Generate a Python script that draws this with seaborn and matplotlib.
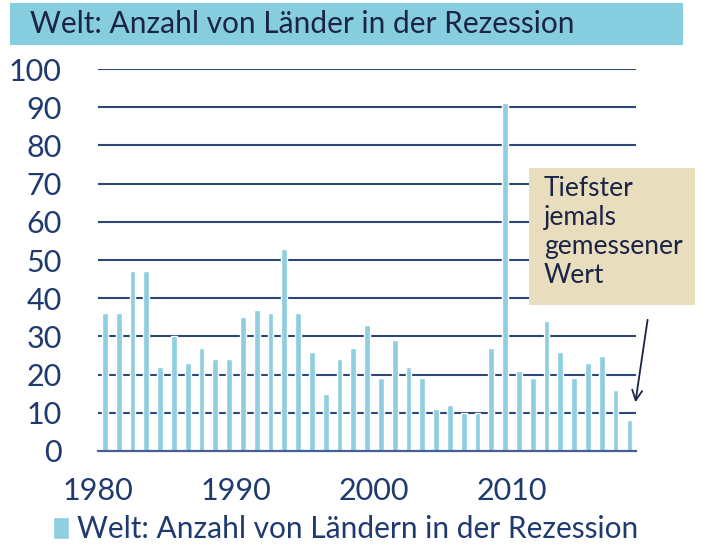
import numpy as np
import pandas as pd
import seaborn as sns
import matplotlib.pyplot as plt
from matplotlib.patches import Rectangle

# Werte
jahre = list(range(1980, 2019))
anzahl = [36, 36, 47, 47, 22, 30, 23, 27, 24, 24,
          35, 37, 36, 53, 36, 26, 15, 24, 27, 33,
          19, 29, 22, 19, 11, 12, 10, 10, 27, 91,
          21, 19, 34, 26, 19, 23, 25, 16, 8]
tick_jahre = [1980, 1990, 2000, 2010]
y_ticks = list(range(0, 101, 10))

titel = "Welt: Anzahl von Länder in der Rezession"
serie = "Welt: Anzahl von Ländern in der Rezession"
notiz = "Tiefster\njemals\ngemessener\nWert"

balken_farbe = "#8ECEE0"
navy = "#1F3A6E"
grid_farbe = "#2B4777"

sns.set_theme(style="white")
plt.rcParams['font.family'] = ['Lato', 'DejaVu Sans']

df = pd.DataFrame({"jahr": jahre, "anzahl": anzahl})

fig = plt.figure(figsize=(7.07, 5.5), dpi=100)
ax = fig.add_axes([0.1386, 0.18, 0.9 - 0.1386, 0.8745 - 0.18])

sns.barplot(data=df, x="jahr", y="anzahl", color=balken_farbe, saturation=1,
            width=0.42, ax=ax, label=serie, zorder=3)

ax.set_ylim(0, 100)
ax.set_xlim(-0.5, len(jahre) - 0.5)
ax.set_yticks(y_ticks)
ax.set_yticklabels([str(v) for v in y_ticks])
ax.set_xticks([jahre.index(j) - 0.5 for j in tick_jahre])
ax.set_xticklabels([str(j) for j in tick_jahre])
ax.set_xlabel("")
ax.set_ylabel("")

for v in y_ticks[1:]:
    ax.axhline(v, color=grid_farbe, lw=1.5, zorder=1)

for s in ["top", "right", "left"]:
    ax.spines[s].set_visible(False)
ax.spines["bottom"].set_color("#44608E")
ax.spines["bottom"].set_linewidth(1.6)
ax.spines["bottom"].set_zorder(4)

ax.tick_params(axis="x", direction="out", length=9, width=1.4, color="#44608E",
               labelsize=22, labelcolor=navy, pad=10)
ax.tick_params(axis="y", length=0, labelsize=22, labelcolor=navy, pad=26)

# Titelband
fig.patches.append(Rectangle((0.0141, 0.918), 0.952, 0.0765, transform=fig.transFigure,
                             facecolor="#87CDE0", edgecolor="none", zorder=0))
fig.text(0.042, 0.957, titel, fontsize=21.5, color="#1B2447", va="center", ha="left")

# Notiz-Box
fig.patches.append(Rectangle((529 / 707, 1 - 305 / 550), 166 / 707, 137 / 550,
                             transform=fig.transFigure, facecolor="#E8DDBC",
                             edgecolor="none", zorder=5))
fig.text(544 / 707, 1 - 176 / 550, notiz, fontsize=19, color="#1B2447",
         va="top", ha="left", linespacing=1.2, zorder=6)
ax.annotate("", xy=(635 / 707, 1 - 405 / 550), xytext=(648 / 707, 1 - 317 / 550),
            xycoords="figure fraction", textcoords="figure fraction",
            arrowprops=dict(arrowstyle="->", color="#1B2447", lw=1.3,
                            mutation_scale=18), zorder=6)

# Legende
h, l = ax.get_legend_handles_labels()
ax.legend(h[:1], l[:1], loc="center left", bbox_to_anchor=(0.075, 0.038),
          bbox_transform=fig.transFigure, frameon=False, fontsize=21.5,
          handlelength=0.55, handleheight=0.75, handletextpad=0.25,
          labelcolor=navy, borderpad=0, borderaxespad=0)

fig.savefig("out.png", dpi=100)
